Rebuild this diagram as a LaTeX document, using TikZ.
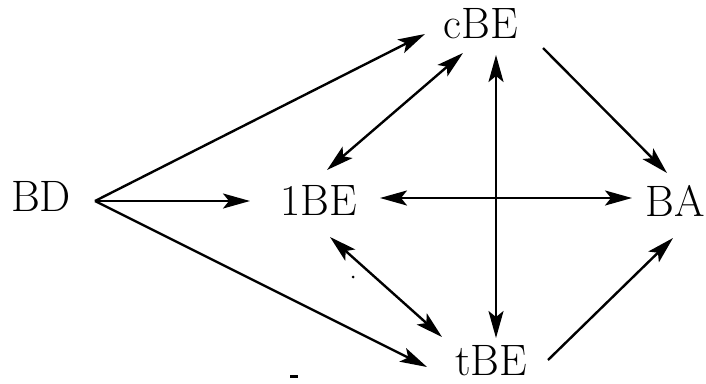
\documentclass[tikz,border=0pt]{standalone}
\usetikzlibrary{arrows.meta}
\begin{document}
\begin{tikzpicture}[x=1pt,y=-1pt,
  lbl/.style={anchor=base,inner sep=0pt,font=\fontsize{44}{50}\selectfont},
  arr/.style={line width=2.4pt,-{Stealth[length=27pt,width=15pt,inset=6pt]}},
  darr/.style={line width=2.4pt,{Stealth[length=27pt,width=15pt,inset=6pt]}-{Stealth[length=27pt,width=15pt,inset=6pt]}}]
\useasboundingbox (0,0) rectangle (706,383);
% nodes
\node[lbl] (BD) at (41,211) {BD};
\node[lbl] (lBE) at (319,215) {1BE};
\node[lbl] (BA) at (675,216) {BA};
\node[lbl] (cBE) at (481,38) {cBE};
\node[lbl] (tBE) at (491,375) {tBE};
% connector ends
\coordinate (BDo) at (95,201);
\coordinate (cBEin) at (425,34);
\coordinate (lBEin) at (250,201);
\coordinate (tBEin) at (427,367);
\coordinate (lBEnc) at (327,170);
\coordinate (cBEsw) at (463,53);
\coordinate (lBEst) at (330,237);
\coordinate (tBEnw) at (442,337);
\coordinate (lBEe) at (380,198);
\coordinate (BAw) at (632,198);
\coordinate (cBEs) at (496,55);
\coordinate (tBEn) at (496,338);
\coordinate (cBEse) at (543,48);
\coordinate (BAnw) at (667,173);
\coordinate (tBEne) at (548,360);
\coordinate (BAsw) at (673,238);
% connectors
\draw[arr] (BDo) -- (cBEin);
\draw[arr] (BDo) -- (lBEin);
\draw[arr] (BDo) -- (tBEin);
\draw[darr] (lBEnc) -- (cBEsw);
\draw[darr] (lBEst) -- (tBEnw);
\draw[darr] (lBEe) -- (BAw);
\draw[darr] (cBEs) -- (tBEn);
\draw[arr] (cBEse) -- (BAnw);
\draw[arr] (tBEne) -- (BAsw);
% specks
\fill (353,277) circle (1.5pt);
\fill (290,374.5) rectangle (298,377.5);
\end{tikzpicture}
\end{document}
